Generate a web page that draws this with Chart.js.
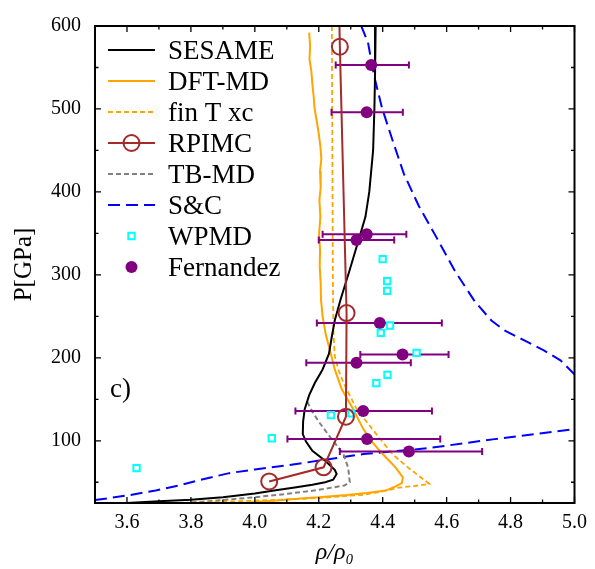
<!DOCTYPE html>
<html>
<head>
<meta charset="utf-8">
<script src="https://cdn.jsdelivr.net/npm/chart.js@4.4.1/dist/chart.umd.min.js"></script>
<style>
  body { margin: 0; background: #fff; }
  canvas { display: block; }
</style>
</head>
<body>
<canvas id="eos" width="595" height="569"></canvas>
<script>
// axis ticks
const xTicks = [3.6, 3.8, 4.0, 4.2, 4.4, 4.6, 4.8, 5.0];
const yTicks = [100, 200, 300, 400, 500, 600];

// SESAME
const sesameRho = [4.378, 4.376, 4.374, 4.370, 4.358, 4.346, 4.327, 4.296, 4.268, 4.250, 4.241, 4.232, 4.212, 4.188, 4.170, 4.156, 4.151, 4.150, 4.160, 4.180, 4.220, 4.250, 4.256, 4.245, 4.220, 4.180, 4.130, 4.060, 4.000, 3.900, 3.800, 3.700, 3.600];
const sesameP = [600, 540, 500, 450, 400, 370, 345, 305, 270, 245, 226, 205, 186, 170, 155, 138, 123, 108, 99, 88, 76, 65, 60, 53, 50, 47, 44, 40, 36.5, 32, 29, 27, 25];

// DFT-MD
const dftRho = [4.170, 4.173, 4.171, 4.177, 4.180, 4.184, 4.187, 4.193, 4.200, 4.205, 4.208, 4.204, 4.206, 4.202, 4.205, 4.201, 4.204, 4.203, 4.206, 4.207, 4.212, 4.222, 4.235, 4.250, 4.272, 4.308, 4.338, 4.364, 4.400, 4.440, 4.463, 4.460, 4.440, 4.410, 4.350, 4.287, 4.200, 4.133, 4.040, 3.960];
const dftP = [592, 575, 560, 545, 530, 515, 500, 487, 470, 455, 440, 425, 405, 390, 370, 350, 330, 310, 290, 270, 250, 228, 209, 186, 162, 138, 115, 100, 84, 68, 56, 49, 45, 40, 37, 34.5, 32, 30, 27, 25];

// fin T xc
const finTRho = [4.241, 4.242, 4.243, 4.244, 4.246, 4.250, 4.262, 4.277, 4.318, 4.380, 4.430, 4.480, 4.546, 4.500, 4.450, 4.400, 4.340, 4.200, 4.050, 3.900, 3.780];
const finTP = [600, 500, 400, 300, 230, 202, 185, 170, 138.5, 108, 84, 67.5, 48, 45.5, 43.5, 39, 35, 31, 28.5, 26.5, 25];

// RPIMC
const rpimcRho = [4.045, 4.215, 4.285, 4.287, 4.266, 4.262];
const rpimcP = [51, 68, 129, 254, 575, 650];

// TB-MD
const tbRho = [4.164, 4.180, 4.200, 4.225, 4.246, 4.265, 4.277, 4.292, 4.297, 4.280, 4.184, 4.100, 4.000, 3.900, 3.780];
const tbP = [147, 135, 123, 110, 99.5, 90, 84, 67.5, 50, 46, 40, 36, 32, 28.5, 25];

// S&C (two branches)
const scUpperRho = [4.333, 4.354, 4.373, 4.398, 4.431, 4.466, 4.513, 4.570, 4.627, 4.688, 4.740, 4.781, 4.843, 4.904, 4.956, 4.995, 5.010];
const scUpperP = [600, 580, 540, 501, 462, 422, 383, 344, 304, 268, 245, 233, 221, 209, 197, 182, 176];
const scLowerRho = [3.500, 3.600, 3.690, 3.760, 3.820, 3.920, 4.000, 4.130, 4.340, 4.540, 4.750, 5.000];
const scLowerP = [28.5, 34, 40, 46, 52, 61, 65.5, 72, 84, 91, 102, 114];

// WPMD
const wpmdRho = [3.630, 4.053, 4.238, 4.302, 4.380, 4.415, 4.506, 4.394, 4.423, 4.400, 4.414, 4.414];
const wpmdP = [67, 103, 131, 133, 169.5, 179.5, 206, 230, 239, 319, 292.5, 280.7];

// Fernandez with x error bars
const fernRho = [4.364, 4.350, 4.350, 4.318, 4.391, 4.462, 4.318, 4.339, 4.351, 4.482];
const fernP = [553, 496, 349, 342, 242, 204, 194, 136, 102, 87];
const fernRhoLow = [4.253, 4.240, 4.212, 4.200, 4.194, 4.330, 4.161, 4.127, 4.102, 4.266];
const fernRhoHigh = [4.482, 4.463, 4.474, 4.436, 4.585, 4.606, 4.488, 4.554, 4.580, 4.711];

const FONT = '"Liberation Serif", "Times New Roman", serif';

function pts(xs, ys) {
    return xs.map((x, i) => ({ x: x, y: ys[i] }));
}

const scData = pts(scUpperRho, scUpperP).concat([{ x: null, y: null }], pts(scLowerRho, scLowerP));

// frame with inward ticks on all four sides
const frameTicks = {
    id: 'frameTicks',
    afterDatasetsDraw(chart) {
        const { ctx, chartArea: a, scales: { x, y } } = chart;
        ctx.save();
        ctx.strokeStyle = '#000';
        ctx.lineWidth = 1.3;
        ctx.beginPath();
        for (let v = 3.6; v < 5.0 + 1e-6; v += 0.1) {
            const px = x.getPixelForValue(v);
            const major = xTicks.some(t => Math.abs(t - v) < 1e-6);
            const len = major ? 6 : 3.5;
            ctx.moveTo(px, a.bottom); ctx.lineTo(px, a.bottom - len);
            ctx.moveTo(px, a.top); ctx.lineTo(px, a.top + len);
        }
        for (let v = 50; v <= 600; v += 50) {
            const py = y.getPixelForValue(v);
            const major = yTicks.includes(v);
            const len = major ? 6 : 3.5;
            ctx.moveTo(a.left, py); ctx.lineTo(a.left + len, py);
            ctx.moveTo(a.right, py); ctx.lineTo(a.right - len, py);
        }
        ctx.stroke();
        ctx.lineWidth = 2;
        ctx.strokeRect(a.left, a.top, a.right - a.left, a.bottom - a.top);

        // panel label
        ctx.fillStyle = '#000';
        ctx.font = '27px ' + FONT;
        ctx.textBaseline = 'middle';
        ctx.fillText('c)', a.left + 15, 390);
        ctx.restore();
    }
};

// horizontal error bars for the Fernandez points
const errorBars = {
    id: 'errorBars',
    beforeDatasetDraw(chart, args) {
        const ds = chart.data.datasets[args.index];
        if (!ds.xLow) return;
        const { ctx, scales: { x, y } } = chart;
        ctx.save();
        ctx.strokeStyle = ds.borderColor;
        ctx.lineWidth = 2;
        ctx.beginPath();
        ds.data.forEach((p, i) => {
            const py = y.getPixelForValue(p.y);
            const x0 = x.getPixelForValue(ds.xLow[i]);
            const x1 = x.getPixelForValue(ds.xHigh[i]);
            ctx.moveTo(x0, py); ctx.lineTo(x1, py);
            ctx.moveTo(x0, py - 3.5); ctx.lineTo(x0, py + 3.5);
            ctx.moveTo(x1, py - 3.5); ctx.lineTo(x1, py + 3.5);
        });
        ctx.stroke();
        ctx.restore();
    }
};

// legend drawn inside the plot area, top-left
const insideLegend = {
    id: 'insideLegend',
    afterDraw(chart) {
        const { ctx, chartArea: a } = chart;
        ctx.save();
        chart.data.datasets.forEach((ds, i) => {
            const cy = a.top + 24 + i * 31;
            const x0 = a.left + 13, x1 = x0 + 47, xm = (x0 + x1) / 2;
            if (ds.showLine) {
                ctx.beginPath();
                ctx.setLineDash(ds.borderDash || []);
                ctx.strokeStyle = ds.borderColor;
                ctx.lineWidth = ds.borderWidth;
                ctx.moveTo(x0, cy);
                ctx.lineTo(x1, cy);
                ctx.stroke();
                ctx.setLineDash([]);
            }
            if (ds.pointRadius > 0) {
                ctx.beginPath();
                ctx.lineWidth = ds.pointBorderWidth;
                ctx.strokeStyle = ds.borderColor;
                ctx.fillStyle = ds.pointBackgroundColor;
                if (ds.pointStyle === 'rect') {
                    const s = ds.pointRadius * Math.SQRT1_2;
                    ctx.rect(xm - s, cy - s, 2 * s, 2 * s);
                } else {
                    ctx.arc(xm, cy, ds.pointRadius, 0, Math.PI * 2);
                }
                ctx.fill();
                if (ds.pointBorderWidth > 0) ctx.stroke();
            }
            ctx.fillStyle = '#000';
            ctx.font = '27px ' + FONT;
            ctx.textBaseline = 'alphabetic';
            ctx.fillText(ds.label, x1 + 13, cy + 9);
        });
        ctx.restore();
    }
};

const ctx = document.getElementById('eos').getContext('2d');
new Chart(ctx, {
    type: 'scatter',
    data: {
        datasets: [
            { label: 'SESAME', data: pts(sesameRho, sesameP), showLine: true, borderColor: '#000000', borderWidth: 2, pointRadius: 0, order: 1 },
            { label: 'DFT-MD', data: pts(dftRho, dftP), showLine: true, borderColor: '#FFA500', borderWidth: 2, pointRadius: 0, order: 1 },
            { label: 'fin T xc', data: pts(finTRho, finTP), showLine: true, borderColor: '#FFA500', borderWidth: 1.8, borderDash: [5, 3], pointRadius: 0, order: 1 },
            { label: 'RPIMC', data: pts(rpimcRho, rpimcP), showLine: true, borderColor: '#A52A2A', borderWidth: 2, pointRadius: 8, pointStyle: 'circle', pointBorderWidth: 2, pointBackgroundColor: 'rgba(255,255,255,0)', pointBorderColor: '#A52A2A', order: 0 },
            { label: 'TB-MD', data: pts(tbRho, tbP), showLine: true, borderColor: '#808080', borderWidth: 2, borderDash: [5, 3], pointRadius: 0, order: 1 },
            { label: 'S&C', data: scData, showLine: true, spanGaps: false, borderColor: '#0000FF', borderWidth: 2, borderDash: [12, 6], pointRadius: 0, order: 1 },
            { label: 'WPMD', data: pts(wpmdRho, wpmdP), showLine: false, borderColor: '#00FFFF', pointRadius: 4.5, pointStyle: 'rect', pointBorderWidth: 2, pointBackgroundColor: '#FFFFFF', pointBorderColor: '#00FFFF', order: 0 },
            { label: 'Fernandez', data: pts(fernRho, fernP), xLow: fernRhoLow, xHigh: fernRhoHigh, showLine: false, borderColor: '#800080', pointRadius: 6, pointStyle: 'circle', pointBorderWidth: 0, pointBackgroundColor: '#800080', pointBorderColor: '#800080', order: 0 }
        ]
    },
    options: {
        responsive: false,
        animation: false,
        devicePixelRatio: 1,
        layout: { padding: { top: 17, right: 14, left: 0, bottom: 0 } },
        plugins: {
            legend: { display: false },
            tooltip: { enabled: false }
        },
        scales: {
            x: {
                type: 'linear',
                min: 3.5,
                max: 5.0,
                afterBuildTicks: s => { s.ticks = xTicks.map(v => ({ value: v })); },
                afterFit: s => { s.height = 66; },
                grid: { display: false, drawTicks: false },
                border: { display: false },
                ticks: { padding: 8, color: '#000', font: { family: FONT, size: 20 }, callback: v => v.toFixed(1), maxRotation: 0 },
                title: { display: true, text: 'ρ/ρ₀', color: '#000', font: { family: FONT, size: 24, style: 'italic' }, padding: { top: 0, bottom: 2 } }
            },
            y: {
                type: 'linear',
                min: 25,
                max: 600,
                afterBuildTicks: s => { s.ticks = yTicks.map(v => ({ value: v })); },
                afterFit: s => { s.width = 95; },
                grid: { display: false, drawTicks: false },
                border: { display: false },
                ticks: { padding: 14, color: '#000', font: { family: FONT, size: 20 } },
                title: { display: true, text: 'P[GPa]', color: '#000', font: { family: FONT, size: 25 }, padding: { top: 9, bottom: 0 } }
            }
        }
    },
    plugins: [frameTicks, errorBars, insideLegend]
});
</script>
</body>
</html>
